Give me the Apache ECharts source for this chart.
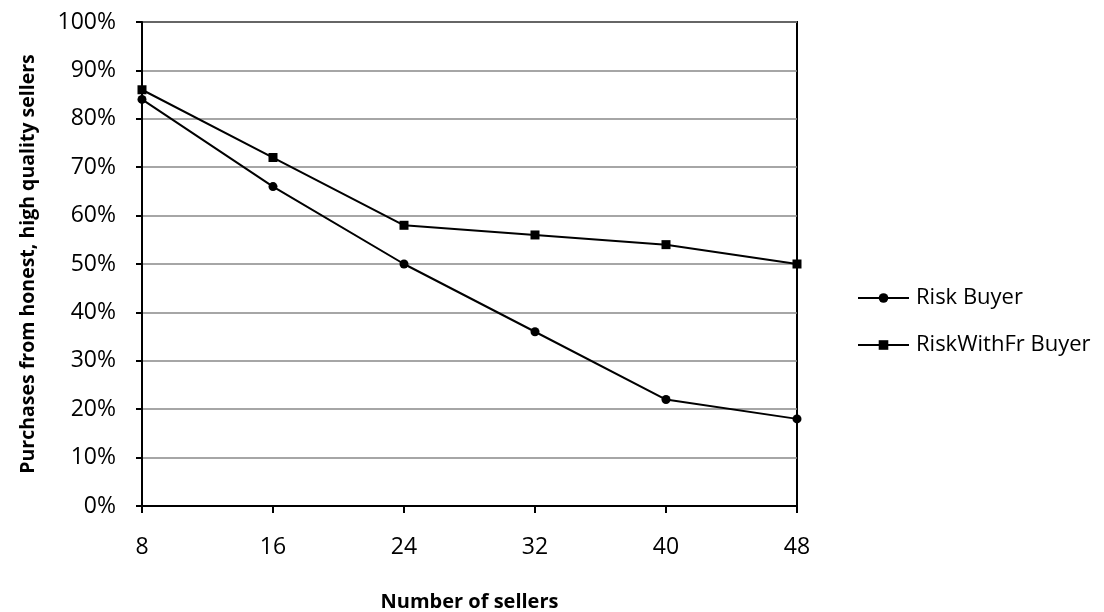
<!DOCTYPE html>
<html><head><meta charset="utf-8">
<script src="https://cdn.jsdelivr.net/npm/echarts@6/dist/echarts.min.js"></script>
<style>html,body{margin:0;padding:0;background:#fff}#c{width:1104px;height:612px}</style>
</head><body><div id="c"></div>
<script>
const categories = ['8','16','24','32','40','48'];
const riskBuyer = [84,66,50,36,22,18];
const riskWithFrBuyer = [86,72,58,56,54,50];
const seriesNames = ['Risk Buyer','RiskWithFr Buyer'];
const xTitle = 'Number of sellers';
const yTitle = 'Purchases from honest, high quality sellers';

const font = '"Open Sans", "Liberation Sans", sans-serif';
const chart = echarts.init(document.getElementById('c'));
chart.setOption({
  animation:false,
  backgroundColor:'#fff',
  grid:{left:142,right:307,top:22,bottom:106,show:true,borderColor:'#000',borderWidth:2,
        backgroundColor:'transparent',containLabel:false,outerBoundsMode:'none'},
  legend:{
    orient:'vertical',left:852,top:281,itemGap:23,itemWidth:51,itemHeight:12,
    lineStyle:{width:2,color:'#000'},
    textStyle:{fontFamily:font,fontSize:22,lineHeight:24,color:'#000',padding:[0,0,0,2]},
    data:seriesNames
  },
  xAxis:{
    type:'category',data:categories,boundaryGap:false,
    name:xTitle,nameLocation:'middle',nameGap:86,
    nameTextStyle:{fontFamily:font,fontSize:20,fontWeight:'bold',color:'#000'},
    axisLine:{lineStyle:{color:'#000',width:2}},
    axisTick:{show:true,length:7,lineStyle:{color:'#000',width:2}},
    axisLabel:{fontFamily:font,fontSize:23,color:'#000',margin:30},
    splitLine:{show:false}
  },
  yAxis:{
    type:'value',min:0,max:100,interval:10,
    name:yTitle,nameLocation:'middle',nameGap:104,
    nameTextStyle:{fontFamily:font,fontSize:19.5,fontWeight:'bold',color:'#000'},
    axisLine:{show:true,lineStyle:{color:'#000',width:2}},
    axisTick:{show:true,length:6,lineStyle:{color:'#000',width:2}},
    axisLabel:{fontFamily:font,fontSize:23,color:'#000',margin:26,formatter:'{value}%'},
    splitLine:{show:true,lineStyle:{color:'#888',width:1.5}}
  },
  series:[
    {name:seriesNames[0],type:'line',data:riskBuyer,symbol:'circle',symbolSize:9,
     lineStyle:{color:'#000',width:2},itemStyle:{color:'#000'}},
    {name:seriesNames[1],type:'line',data:riskWithFrBuyer,symbol:'rect',symbolSize:9,
     lineStyle:{color:'#000',width:2},itemStyle:{color:'#000'}}
  ]
});
</script></body></html>
